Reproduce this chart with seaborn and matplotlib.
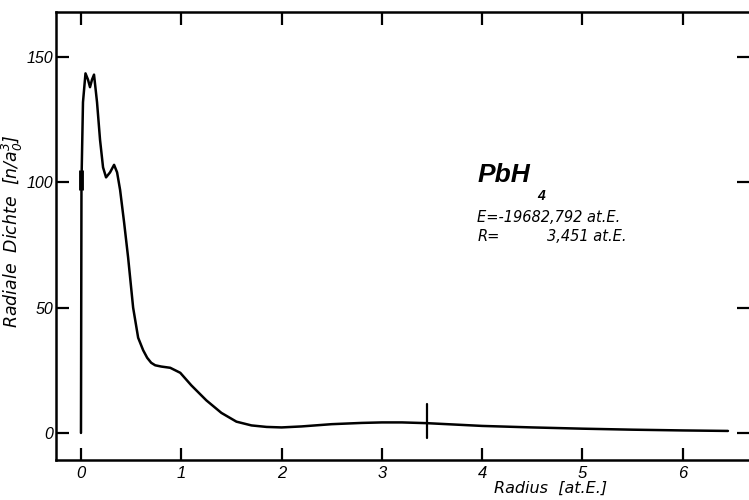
import matplotlib
matplotlib.use("Agg")
import matplotlib.pyplot as plt
import seaborn as sns
import pandas as pd

# ---- data ----
radius = [0.0, 0.005, 0.02, 0.045, 0.07, 0.09, 0.11, 0.13, 0.16, 0.19, 0.22, 0.25,
          0.29, 0.33, 0.36, 0.39, 0.43, 0.47, 0.52, 0.57, 0.62, 0.66, 0.70, 0.74,
          0.80, 0.89, 0.99, 1.10, 1.25, 1.40, 1.55, 1.70, 1.85, 2.00, 2.20, 2.50,
          2.80, 3.00, 3.20, 3.45, 3.70, 4.00, 4.50, 5.00, 5.50, 6.00, 6.45]
density = [0.0, 100.0, 132.0, 143.5, 141.0, 138.0, 141.0, 143.0, 132.0, 117.0, 106.0, 102.0,
           104.0, 107.0, 104.0, 97.0, 84.0, 70.0, 50.0, 38.0, 33.0, 30.0, 28.0, 27.0,
           26.5, 26.0, 24.0, 19.0, 13.0, 8.0, 4.5, 3.0, 2.4, 2.2, 2.6, 3.5,
           4.0, 4.2, 4.2, 3.9, 3.4, 2.8, 2.2, 1.7, 1.3, 1.0, 0.8]

x_ticks = [0, 1, 2, 3, 4, 5, 6]
y_ticks = [0, 50, 100, 150]

r_equil = 3.451           # position of the marked bond length
r_mark_span = [-2.0, 11.5]
cusp_mark_span = [97.0, 105.0]

molecule = "PbH"
molecule_sub = "4"
energy_label = "E=-19682,792 at.E."
r_label = "R="
r_value = "3,451 at.E."
xlabel = "Radius  [at.E.]"
ylabel = "Radiale  Dichte  [n/a$_0^3$]"

# ---- plot ----
sns.set_theme(style="ticks")
plt.rcParams["font.family"] = ["Liberation Sans", "DejaVu Sans"]
plt.rcParams["font.style"] = "italic"
plt.rcParams["mathtext.fontset"] = "custom"
plt.rcParams["mathtext.rm"] = "DejaVu Sans:italic"
plt.rcParams["mathtext.it"] = "DejaVu Sans:italic"

fig = plt.figure(figsize=(7.49, 5.00), dpi=100)
ax = fig.add_axes([56 / 749, 40 / 500, 693 / 749, 448 / 500])

df = pd.DataFrame({"r": radius, "d": density})
sns.lineplot(data=df, x="r", y="d", ax=ax, color="black", linewidth=1.8,
             sort=False, estimator=None)

ax.plot([r_equil, r_equil], r_mark_span, color="black", lw=1.6)
ax.plot([0, 0], cusp_mark_span, color="black", lw=3.5, solid_capstyle="butt")

ax.set_xlim(-0.249, 6.66)
ax.set_ylim(-10.8, 168)
ax.set_xticks(x_ticks)
ax.set_yticks(y_ticks)
ax.set_xticklabels([str(t) for t in x_ticks], fontsize=12, style="italic")
ax.set_yticklabels([str(t) for t in y_ticks], fontsize=11.5, style="italic")

ax.tick_params(axis="both", direction="in", length=9, width=1.6, color="black",
               top=True, right=True, labelcolor="black")
ax.tick_params(axis="x", pad=4)
ax.tick_params(axis="y", pad=2)

for side in ["left", "bottom", "top"]:
    ax.spines[side].set_linewidth(1.8)
    ax.spines[side].set_color("black")
ax.spines["right"].set_visible(False)

ax.set_xlabel(xlabel, fontsize=11.5, style="italic", color="black",
              family=["DejaVu Sans"])
ax.xaxis.set_label_coords(0.714, -0.047)
ax.set_ylabel(ylabel, fontsize=12.5, style="italic", color="black",
              family=["DejaVu Sans"])
ax.yaxis.set_label_coords(-0.045, 0.51)

ax.text(3.95, 100.1, molecule, fontsize=19, fontweight="bold", style="italic",
        ha="left", va="baseline", color="black")
ax.text(4.55, 93.0, molecule_sub, fontsize=10, fontweight="bold", style="italic",
        ha="left", va="baseline", color="black")
for txt, xx, yy, ha in [(energy_label, 3.95, 84.2, "left"),
                        (r_label, 3.95, 76.6, "left"),
                        (r_value, 5.44, 76.6, "right")]:
    ax.text(xx, yy, txt, fontsize=10.5, style="italic", ha=ha, va="baseline",
            color="black", family=["DejaVu Sans"])

fig.savefig("out.png", dpi=100)
